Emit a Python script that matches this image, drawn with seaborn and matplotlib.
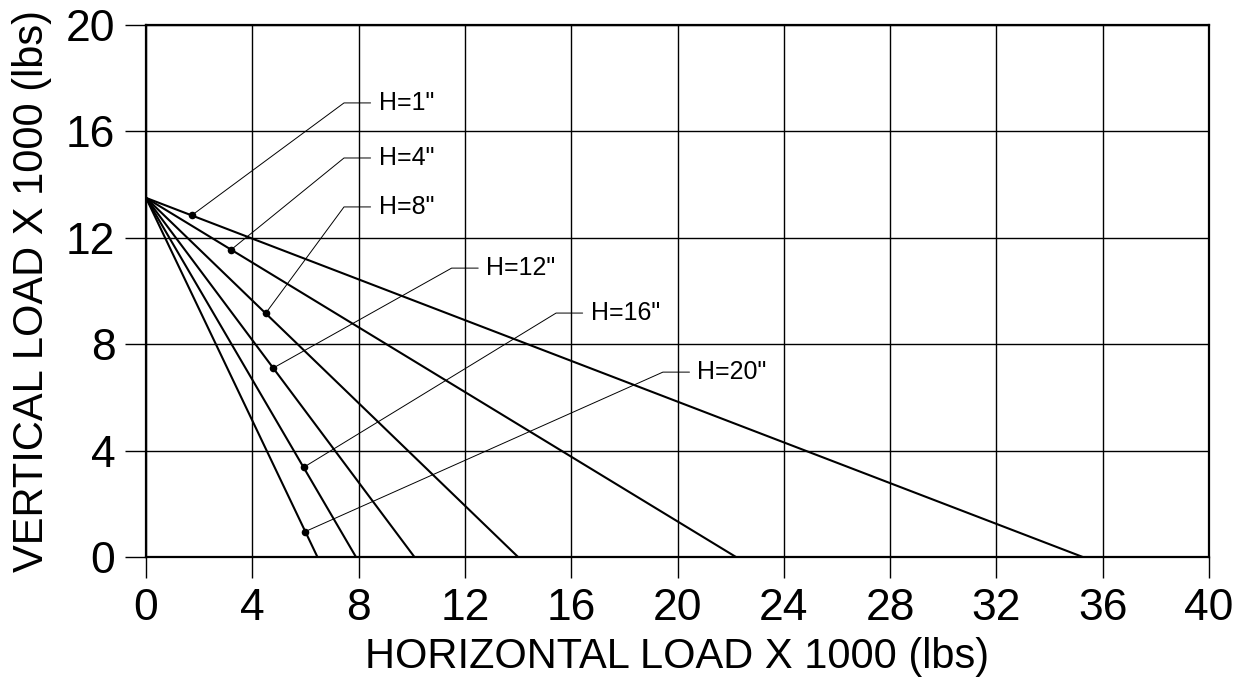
import pandas as pd
import seaborn as sns
import matplotlib
matplotlib.use("Agg")
import matplotlib.pyplot as plt

# --- Data (loads x 1000 lbs) ---
heights = ['H=1"', 'H=4"', 'H=8"', 'H=12"', 'H=16"', 'H=20"']
apex_vertical = 13.5
horiz_intercepts = [35.25, 22.2, 14.0, 10.1, 7.9, 6.45]

# marked points on each line
point_x = [1.73, 3.2, 4.5, 4.78, 5.93, 5.98]
point_y = [12.85, 11.55, 9.16, 7.1, 3.37, 0.95]

# leader line elbows for the labels
elbow_x = [7.45, 7.45, 7.45, 11.5, 15.43, 19.45]
elbow_y = [17.07, 15.0, 13.16, 10.86, 9.17, 6.95]

# --- Build long table for seaborn ---
rows = []
for h, xi in zip(heights, horiz_intercepts):
    rows.append({"H": h, "x": 0.0, "y": apex_vertical})
    rows.append({"H": h, "x": xi, "y": 0.0})
lines = pd.DataFrame(rows)
points = pd.DataFrame({"H": heights, "x": point_x, "y": point_y})

sns.set_style("white")
plt.rcParams['font.family'] = ['Liberation Sans', 'DejaVu Sans']
plt.rcParams['text.color'] = 'black'
plt.rcParams['axes.labelcolor'] = 'black'
plt.rcParams['xtick.color'] = 'black'
plt.rcParams['ytick.color'] = 'black'

fig = plt.figure(figsize=(12.46, 6.79), dpi=100)
ax = fig.add_axes([0.1172, 0.1797, 0.8531, 0.7835])

sns.lineplot(data=lines, x="x", y="y", units="H", estimator=None,
             color="black", linewidth=1.5, ax=ax, zorder=3)
sns.scatterplot(data=points, x="x", y="y", color="black", s=30,
                edgecolor="black", linewidth=0, ax=ax, zorder=4)

# leader lines + labels
for h, px, py, ex, ey in zip(heights, point_x, point_y, elbow_x, elbow_y):
    ax.plot([px, ex, ex + 1.0], [py, ey, ey], color="black", linewidth=0.7, zorder=3)
    ax.text(ex + 1.3, ey, h, fontsize=18, va="center", ha="left",
            color="black", zorder=5)

ax.set_xlim(0, 40)
ax.set_ylim(0, 20)
ax.set_xticks(range(0, 41, 4))
ax.set_yticks(range(0, 21, 4))
ax.grid(True, color="black", linewidth=1.0)
ax.set_axisbelow(True)
for side in ax.spines:
    ax.spines[side].set_visible(True)
    ax.spines[side].set_color("black")
    ax.spines[side].set_linewidth(1.6)
ax.tick_params(axis="both", direction="out", length=15, width=1.0,
               color="black", labelcolor="black", labelsize=32, pad=7,
               bottom=True, left=True)

ax.set_xlabel("HORIZONTAL LOAD X 1000 (lbs)", fontsize=30, labelpad=6, color="black")
ax.set_ylabel("VERTICAL LOAD X 1000 (lbs)", fontsize=30, labelpad=10, color="black")

fig.savefig("out.png", dpi=100)
